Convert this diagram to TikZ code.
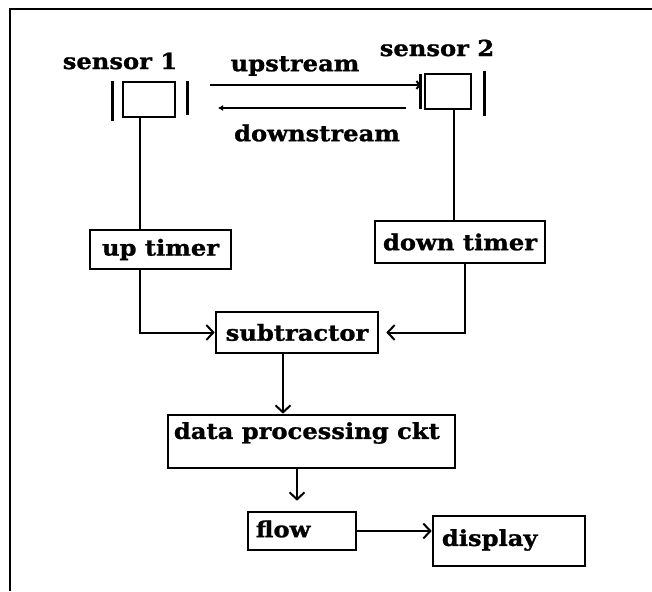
\documentclass[tikz,border=0pt]{standalone}
\usepackage{fontspec}
\setmainfont{DejaVu Serif}[FakeStretch=1.1,BoldFeatures={FakeBold=1.2,FakeStretch=1.1}]
\usetikzlibrary{arrows.meta,calc}

\begin{document}
\begin{tikzpicture}[x=1pt,y=-1pt,
    blk/.style={rectangle, draw, line width=2.6pt, inner sep=0pt},
    txt/.style={font=\fontsize{22}{26}\selectfont\bfseries, inner sep=0pt},
    wire/.style={line width=2pt},
    arr/.style={wire, -{Straight Barb[length=7pt,width=15pt]}}]
        \def\barw{2.6}
        \useasboundingbox (0,0) rectangle (652,591);
        \draw[line width=2.8pt] (10,591) -- (10,9) -- (652,9);

        % sensors
        \node(s1) [blk, minimum width=52pt, minimum height=35pt] at (149,99.5) {};
        \node(s1name) [txt] at (120,61) {sensor 1};
        \draw[line width=\barw pt] ($(s1.north west)+(-9,0)$) -- ($(s1.south west)+(-9,3)$);
        \draw[line width=\barw pt] ($(s1.north east)+(11,0)$) -- ($(s1.south east)+(11,-3)$);

        \node(s2) [blk, minimum width=46pt, minimum height=35pt] at (448,91.5) {};
        \node(s2name) [txt] at (437,48) {sensor 2};
        \draw[line width=\barw pt] ($(s2.north west)+(-3,1)$) -- ($(s2.south west)+(-3,-1)$);
        \draw[line width=\barw pt] ($(s2.north east)+(12,-2)$) -- ($(s2.south east)+(12,6)$);

        % flow between the sensors
        \coordinate(upA) at (210,85);
        \coordinate(dnA) at (406,108);
        \coordinate(dnB) at (218,108);
        \draw[wire, shorten >=3pt, -{Straight Barb[length=3pt,width=8pt]}] (upA) -- (upA -| s2.west);
        \node(uplbl) [txt] at (295,66) {upstream};
        \draw[wire, -{Latex[length=5pt,width=6pt]}] (dnA) -- (dnB);
        \node(dnlbl) [txt] at (317,133) {downstream};

        % timers
        \node(ut) [blk, txt, minimum width=141pt, minimum height=39pt] at (160.5,249.5) {up timer};
        \node(dt) [blk, txt, minimum width=170pt, minimum height=42pt] at (460,242) {down timer};
        \draw[wire] ($(s1.south)+(-9,0)$) -- ($(ut.north)+(-20.5,0)$);
        \draw[wire] ($(s2.south)+(6,0)$) -- ($(dt.north)+(-6,0)$);

        \node(sub) [blk, txt, minimum width=162pt, minimum height=41pt] at (297,332.5) {subtractor};
        \draw[arr] ($(ut.south)+(-20.5,0)$) |- (sub.west);
        \draw[arr, shorten >=7pt] ($(dt.south)+(5,0)$) |- (sub.east);

        \node(dp) [blk, minimum width=287pt, minimum height=53pt] at (311.5,441.5) {};
        \node(dptxt) [txt, anchor=west] at ($(dp.west)+(7,-8.5)$) {data processing ckt};
        \draw[arr] ($(sub.south)+(-14,0)$) -- ($(dp.north)+(-28.5,0)$);

        \node(flow) [blk, minimum width=108pt, minimum height=38pt] at (302,531) {};
        \node(flowtxt) [txt, anchor=west] at ($(flow.west)+(9,-2)$) {flow};
        \draw[arr, shorten >=10pt] ($(dp.south)+(-14.5,0)$) -- ($(flow.north)+(-5,0)$);

        \node(disp) [blk, minimum width=152pt, minimum height=50pt] at (509,541) {};
        \node(disptxt) [txt, anchor=west] at ($(disp.west)+(10,-1)$) {display};
        \draw[arr] (flow.east) -- (flow.east -| disp.west);
\end{tikzpicture}
\end{document}
